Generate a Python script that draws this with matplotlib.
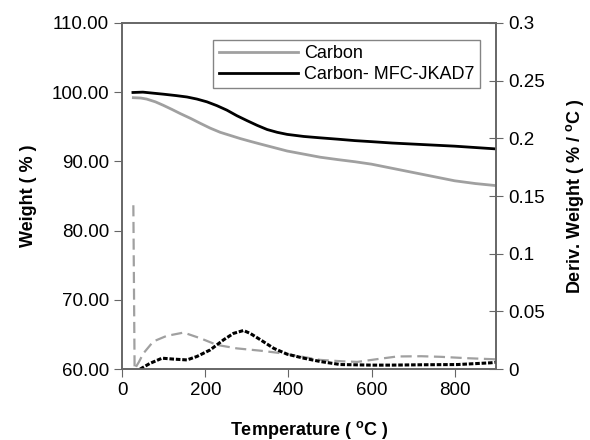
import matplotlib.pyplot as plt

plt.rcParams['font.family'] = ['Liberation Sans', 'DejaVu Sans']
plt.rcParams['mathtext.fontset'] = 'custom'
plt.rcParams['mathtext.bf'] = 'Liberation Sans:bold'
plt.rcParams['mathtext.rm'] = 'Liberation Sans'

# Weight curves (left axis)
temp_c = [27, 45, 59, 80, 99, 120, 140, 165, 188, 212, 236, 260, 284, 308,
          333, 365, 397, 437, 477, 520, 560, 600, 650, 700, 750, 800, 850, 900]
carbon_w = [99.2, 99.15, 99.0, 98.6, 98.1, 97.5, 96.9, 96.2, 95.5, 94.8,
            94.2, 93.75, 93.3, 92.9, 92.5, 92.0, 91.5, 91.05, 90.6, 90.25,
            89.95, 89.6, 89.0, 88.4, 87.8, 87.2, 86.8, 86.5]
temp_m = [26, 50, 75, 100, 130, 156, 180, 204, 228, 252, 276, 300, 325, 349,
          373, 397, 437, 477, 520, 560, 600, 650, 700, 750, 800, 850, 900]
mfc_w = [99.95, 100.0, 99.85, 99.7, 99.5, 99.3, 99.0, 98.6, 98.05, 97.4,
         96.6, 95.9, 95.2, 94.6, 94.2, 93.9, 93.6, 93.4, 93.2, 93.0, 92.85,
         92.65, 92.5, 92.35, 92.2, 92.0, 91.8]

# Derivative curves (right axis)
temp_dc = [27, 30, 40, 51, 75, 107, 148, 188, 228, 276, 333, 381, 429, 477,
           530, 566, 620, 662, 720, 766, 830, 887, 900]
carbon_d = [0.142, 0.0, 0.006, 0.0136, 0.024, 0.0288, 0.0317, 0.0268, 0.021,
            0.018, 0.016, 0.0139, 0.011, 0.008, 0.0068, 0.0063, 0.009, 0.011,
            0.0112, 0.0107, 0.0095, 0.0087, 0.0085]
temp_dm = [43, 67, 96, 124, 156, 180, 212, 244, 268, 292, 308, 333, 365, 397,
           437, 477, 525, 600, 646, 720, 807, 887, 900]
mfc_d = [0.0, 0.005, 0.0095, 0.0087, 0.008, 0.011, 0.0167, 0.0254, 0.031,
         0.0335, 0.031, 0.0254, 0.018, 0.013, 0.0095, 0.0066, 0.004, 0.0035,
         0.0035, 0.0038, 0.004, 0.0055, 0.006]

fig = plt.figure(figsize=(5.9, 4.4), dpi=100)
ax = fig.add_axes([0.207, 0.161, 0.634, 0.787])
ax2 = ax.twinx()

l1, = ax.plot(temp_c, carbon_w, color='#a0a0a0', lw=2, label='Carbon')
l2, = ax.plot(temp_m, mfc_w, color='black', lw=2, label='Carbon- MFC-JKAD7')
ax2.plot(temp_dc, carbon_d, color='#a0a0a0', lw=1.6, ls=(0, (5, 2.5)))
ax2.plot(temp_dm, mfc_d, color='black', lw=2.2, ls=(0, (1.5, 0.6)))

ax.set_xlim(0, 900)
ax.set_ylim(60, 110)
ax2.set_ylim(0, 0.3)
ax.set_xticks([0, 200, 400, 600, 800])
ax.set_yticks([60, 70, 80, 90, 100, 110])
ax.set_yticklabels(['%.2f' % v for v in [60, 70, 80, 90, 100, 110]])
ax2.set_yticks([0, 0.05, 0.1, 0.15, 0.2, 0.25, 0.3])
ax2.set_yticklabels(['0', '0.05', '0.1', '0.15', '0.2', '0.25', '0.3'])

for a in (ax, ax2):
    for s in a.spines.values():
        s.set_color('#666666')
        s.set_linewidth(1.2)
ax.tick_params(axis='both', labelsize=13.5, colors='#666666', labelcolor='black',
               length=6, direction='out')
ax2.tick_params(axis='y', labelsize=13.5, colors='#666666', labelcolor='black',
                length=10, direction='inout')

ax.set_xlabel(r'Temperature ( $^{\mathbf{o}}$C )', fontsize=13, fontweight='bold',
              labelpad=14)
ax.set_ylabel('Weight ( % )', fontsize=13, fontweight='bold', labelpad=10)
ax2.set_ylabel(r'Deriv. Weight ( % / $^{\mathbf{o}}$C )', fontsize=13,
               fontweight='bold', labelpad=14)

leg = ax.legend(handles=[l1, l2], loc='upper right', bbox_to_anchor=(0.957, 0.951),
                borderaxespad=0, fontsize=13, frameon=True, fancybox=False,
                handlelength=4.4, handletextpad=0.35, borderpad=0.3,
                labelspacing=0.2)
leg.get_frame().set_edgecolor('#666666')
leg.get_frame().set_linewidth(1.0)

fig.savefig('out.png', dpi=100)
